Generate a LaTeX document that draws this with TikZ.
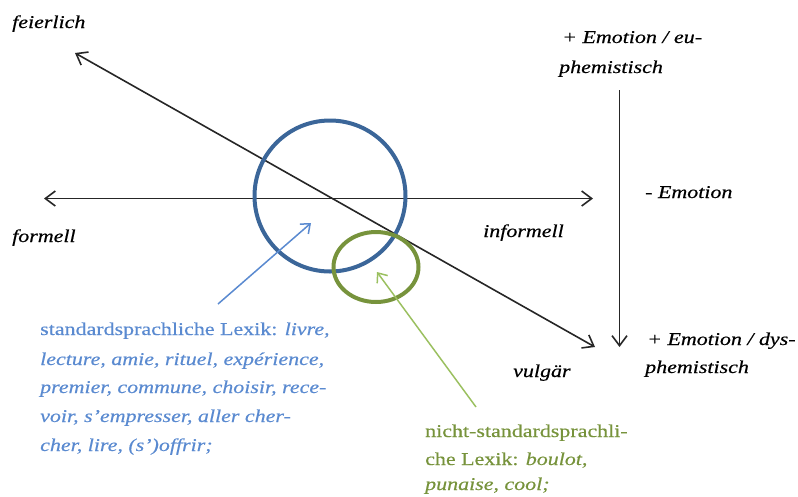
\documentclass[tikz,border=0pt]{standalone}
\usepackage{fontspec}
\setmainfont{Liberation Serif}[FakeStretch=1.22,FakeBold=0.4]
\usetikzlibrary{arrows.meta,shapes.geometric}
\definecolor{axisgray}{HTML}{262626}
\definecolor{stdblue}{HTML}{3B6699}
\definecolor{stdbluelight}{HTML}{5A8AD0}
\definecolor{nsgreen}{HTML}{77933C}
\definecolor{nsgreenlight}{HTML}{9BC060}
\tikzset{
  axis/.style={draw=axisgray, line width=1.6pt, {Straight Barb[length=10pt,width=15pt]}-{Straight Barb[length=10pt,width=15pt]}},
  axisone/.style={draw=axisgray, line width=1.6pt, -{Straight Barb[length=10pt,width=15pt]}},
  pointer/.style={line width=1.5pt, -{Straight Barb[length=8pt,width=13pt]}},
  label/.style={font=\fontsize{18}{22}\selectfont\itshape, anchor=base west, inner sep=0pt, text=black},
  bluetext/.style={font=\fontsize{18}{22}\selectfont, anchor=base west, inner sep=0pt, text=stdbluelight},
  greentext/.style={font=\fontsize{18}{22}\selectfont, anchor=base west, inner sep=0pt, text=nsgreen},
}
\begin{document}
\begin{tikzpicture}[x=1pt,y=-1pt]
\useasboundingbox (0,0) rectangle (798,496);

% axis end points
\coordinate (feierlichEnd) at (75,53);
\coordinate (vulgaerEnd) at (595,347);
\coordinate (formellEnd) at (44,198.5);
\coordinate (informellEnd) at (593,198.5);
\coordinate (emoTop) at (619.5,90);
\coordinate (emoBottom) at (619.5,347);

% axes
\draw[axis] (feierlichEnd) -- (vulgaerEnd);
\draw[axis] (formellEnd) -- (informellEnd);
\draw[axisone] (emoTop) -- (emoBottom);

% circles marking the two lexical areas
\node[draw=stdblue, line width=4pt, circle, minimum size=151pt, inner sep=0pt] (stdcircle) at (330,196) {};
\node[draw=nsgreen, line width=4pt, ellipse, minimum width=85pt, minimum height=70pt, inner sep=0pt] (nscircle) at (376,267) {};

% axis labels
\node[label] (feierlich) at (12,28) {feierlich};
\node[label] (formell) at (12,242) {formell};
\node[label] (informell) at (483,237) {informell};
\node[label] (vulgaer) at (513,377) {vulgär};
\node[label] (eu1) at (562,43) {+ Emotion / eu-};
\node[label] (eu2) at (559,73) {phemistisch};
\node[label] (neutral) at (645,198) {- Emotion};
\node[label] (dys1) at (647,345) {+ Emotion / dys-};
\node[label] (dys2) at (645,373) {phemistisch};

% standard vocabulary
\node[bluetext] (std1) at (40,335) {standardsprachliche Lexik: \textit{livre,}};
\node[bluetext] (std2) at (40,365) {\textit{lecture, amie, rituel, expérience,}};
\node[bluetext] (std3) at (40,393) {\textit{premier, commune, choisir, rece-}};
\node[bluetext] (std4) at (40,422) {\textit{voir, s'empresser, aller cher-}};
\node[bluetext] (std5) at (40,451) {\textit{cher, lire, (s')offrir;}};

% non-standard vocabulary
\node[greentext] (ns1) at (425,437) {nicht-standardsprachli-};
\node[greentext] (ns2) at (425,465) {che Lexik: \textit{boulot,}};
\node[greentext] (ns3) at (425,490) {\textit{punaise, cool;}};

% pointers from the lists to their circles
\coordinate (stdTail) at (218,304);
\coordinate (stdTip) at (311,223);
\coordinate (nsTail) at (476,407);
\coordinate (nsTip) at (377,272);
\draw[pointer, stdbluelight] (stdTail) -- (stdTip);
\draw[pointer, nsgreenlight] (nsTail) -- (nsTip);
\end{tikzpicture}
\end{document}
